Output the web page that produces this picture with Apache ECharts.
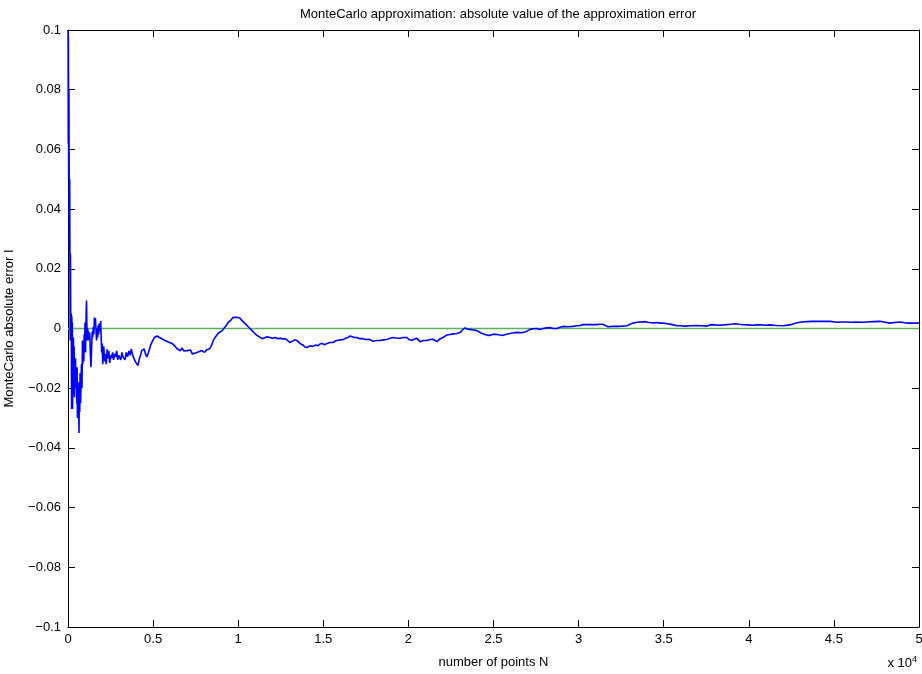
<!DOCTYPE html>
<html>
<head>
<meta charset="utf-8">
<script src="https://cdn.jsdelivr.net/npm/echarts@6/dist/echarts.min.js"></script>
<style>
  html, body { margin: 0; padding: 0; background: #fff; }
  #chart { width: 922px; height: 674px; }
</style>
</head>
<body>
<div id="chart"></div>
<script>
// number of points N and the MonteCarlo error
var errorTrace = [
  [5, 0.1], [15, 0.062], [25, 0.098], [40, 0.05], [55, 0.08], [70, 0.045], [85, 0.025], [100, 0.05],
  [115, 0.02], [130, -0.004], [145, 0.025], [160, 0.004], [175, -0.003],
  [195, 0.005], [210, -0.027], [225, 0.004], [240, -0.02], [255, 0.002], [270, -0.027], [285, -0.005], [300, -0.015],
  [320, -0.003], [340, -0.022], [360, -0.006], [380, -0.023], [400, -0.012], [420, -0.02], [440, -0.01], [460, -0.018], [490, -0.013],
  [515, -0.025], [535, -0.013], [555, -0.03], [575, -0.02], [600, -0.028], [620, -0.018], [645, -0.035],
  [665, -0.022], [690, -0.028], [710, -0.015], [740, -0.025], [770, -0.017],
  [790, -0.012], [820, -0.02], [850, -0.004], [870, -0.012], [900, -0.008], [930, -0.011],
  [950, -0.002], [975, -0.007], [1000, 0.002], [1030, -0.008], [1050, -0.001],
  [1070, 0.006], [1090, 0.0094], [1110, 0.001], [1130, -0.004],
  [1160, 0.0], [1190, -0.004], [1220, -0.001], [1250, -0.003], [1280, -0.0015],
  [1310, -0.008], [1350, -0.013],
  [1390, -0.006], [1420, -0.001], [1450, -0.003], [1490, 0.0005], [1520, -0.002],
  [1550, 0.0037], [1580, 0.002], [1610, 0.0035],
  [1650, -0.001], [1680, -0.004], [1710, 0.0], [1740, -0.003], [1770, 0.001], [1800, -0.002],
  [1830, 0.0017], [1860, 0.002], [1890, -0.001], [1920, 0.0025],
  [1950, -0.003], [1980, -0.008], [2010, -0.005], [2040, -0.012], [2070, -0.008],
  [2100, -0.006], [2150, -0.011], [2200, -0.0085], [2250, -0.012], [2300, -0.007], [2350, -0.01], [2400, -0.0075],
  [2450, -0.0115], [2500, -0.009], [2560, -0.01], [2620, -0.008], [2680, -0.0105], [2740, -0.0085], [2800, -0.0095],
  [2860, -0.0075], [2920, -0.0105], [2980, -0.009], [3040, -0.0085], [3100, -0.0105], [3170, -0.008], [3230, -0.0095],
  [3290, -0.009], [3350, -0.0105], [3420, -0.008], [3500, -0.0095], [3580, -0.0075], [3650, -0.009], [3720, -0.0068],
  [3800, -0.009], [3880, -0.0095], [3950, -0.011], [4030, -0.0105], [4110, -0.0124], [4180, -0.0105],
  [4260, -0.009], [4330, -0.0074], [4400, -0.0078], [4470, -0.0068],
  [4550, -0.0085], [4630, -0.0095], [4700, -0.0085],
  [4780, -0.007], [4860, -0.0055], [4940, -0.0045], [5000, -0.004],
  [5080, -0.003], [5160, -0.0035], [5230, -0.0025], [5290, -0.0023],
  [5380, -0.003], [5460, -0.0025], [5540, -0.0035], [5620, -0.0032], [5700, -0.004],
  [5800, -0.0038], [5900, -0.0045], [6000, -0.004], [6110, -0.005],
  [6200, -0.0055], [6300, -0.006], [6400, -0.0067],
  [6500, -0.0065], [6600, -0.0075], [6700, -0.0065], [6800, -0.0075], [6900, -0.007], [6990, -0.0074],
  [7100, -0.0078], [7200, -0.0072], [7300, -0.0085], [7400, -0.008], [7500, -0.0082], [7580, -0.0088],
  [7680, -0.0078], [7780, -0.0082], [7860, -0.0074], [7930, -0.0075],
  [8030, -0.008], [8130, -0.0072], [8230, -0.0076], [8340, -0.0067],
  [8440, -0.0055], [8540, -0.004], [8640, -0.003],
  [8740, -0.0028], [8840, -0.0015], [8940, -0.0018], [9040, -0.0008], [9110, -0.0007],
  [9200, 0.0003], [9300, 0.001], [9400, 0.002],
  [9500, 0.0023], [9600, 0.003], [9694, 0.0037],
  [9800, 0.0035], [9900, 0.0038], [10000, 0.0032], [10100, 0.0035],
  [10200, 0.0028], [10300, 0.0022], [10400, 0.0017],
  [10500, 0.0012], [10600, 0.0005], [10700, 0.0], [10810, -0.0007],
  [10950, -0.0015], [11100, -0.0023], [11250, -0.0028], [11400, -0.0034],
  [11550, -0.0031], [11700, -0.0028], [11870, -0.003],
  [12000, -0.0033], [12170, -0.003], [12340, -0.0034],
  [12500, -0.0033], [12620, -0.0035], [12750, -0.0034],
  [12900, -0.004], [13040, -0.0047], [13200, -0.0042], [13320, -0.0038], [13450, -0.004], [13630, -0.005],
  [13800, -0.0055], [13920, -0.0062], [14040, -0.0064], [14200, -0.0058], [14390, -0.006],
  [14560, -0.0055], [14680, -0.0058], [14800, -0.0052], [14950, -0.005], [15080, -0.0055], [15220, -0.005],
  [15400, -0.0047], [15570, -0.0047], [15700, -0.0042], [15800, -0.004], [15980, -0.0038], [16160, -0.0037],
  [16300, -0.0033], [16450, -0.003], [16580, -0.0025], [16680, -0.0022], [16830, -0.003], [16980, -0.003],
  [17150, -0.0034], [17330, -0.0034], [17500, -0.0037], [17700, -0.0036], [17920, -0.0043],
  [18120, -0.004], [18330, -0.004], [18530, -0.0038], [18740, -0.0037], [18920, -0.0033], [19090, -0.003],
  [19300, -0.0032], [19500, -0.0033], [19700, -0.003], [19920, -0.003], [20060, -0.0038], [20210, -0.004],
  [20350, -0.0035], [20500, -0.0033], [20680, -0.0044], [20880, -0.004], [21090, -0.004],
  [21270, -0.0037], [21440, -0.0036], [21560, -0.004], [21680, -0.0044], [21850, -0.0035], [22030, -0.003],
  [22250, -0.0022], [22440, -0.002], [22650, -0.0018], [22850, -0.0017], [23030, -0.0013],
  [23180, -0.0005], [23320, 0.0002], [23470, -0.0002], [23620, -0.0003], [23830, -0.0005], [24030, -0.0007],
  [24270, -0.0015], [24500, -0.002], [24650, -0.0023], [24790, -0.0023], [25000, -0.0019], [25200, -0.002],
  [25380, -0.0022], [25560, -0.0023], [25770, -0.0019], [25970, -0.0017], [26180, -0.0014], [26380, -0.0013],
  [26620, -0.0014], [26850, -0.0012], [27000, -0.0008], [27140, -0.0003], [27350, -0.0001], [27550, 0.0],
  [27730, -0.0003], [27910, 0.0], [28120, 0.0002], [28320, 0.0003], [28520, 0.0], [28730, 0.0],
  [28900, 0.0004], [29080, 0.0007], [29370, 0.0006], [29670, 0.0007], [29870, 0.0009], [30080, 0.001],
  [30290, 0.0013], [30490, 0.0013], [30780, 0.0013], [31080, 0.0013], [31250, 0.0014], [31430, 0.0014],
  [31600, 0.0009], [31730, 0.0006], [31990, 0.0007], [32250, 0.0007], [32550, 0.0008], [32840, 0.0009],
  [33020, 0.0014], [33190, 0.0018], [33430, 0.0021], [33660, 0.0022], [33900, 0.0023], [34050, 0.0021],
  [34190, 0.002], [34400, 0.0019], [34600, 0.002], [34780, 0.0018], [34960, 0.0018], [35230, 0.0016],
  [35490, 0.0013], [35780, 0.0009], [36000, 0.0009], [36270, 0.0008], [36540, 0.0009], [36950, 0.001],
  [37250, 0.0009], [37540, 0.0008], [37720, 0.0012], [37890, 0.0013], [38180, 0.0011], [38480, 0.0012],
  [38700, 0.0013], [38890, 0.0014], [39050, 0.0015], [39190, 0.0016], [39420, 0.0014], [39660, 0.0013],
  [39950, 0.0012], [40240, 0.0011], [40450, 0.0012], [40660, 0.0012], [40950, 0.0011], [41240, 0.0012],
  [41620, 0.001], [42010, 0.0009], [42420, 0.0012], [42830, 0.0019], [43130, 0.0022], [43420, 0.0023],
  [43700, 0.0024], [44000, 0.0024], [44380, 0.0024], [44770, 0.0024], [45180, 0.0021], [45470, 0.0022],
  [45770, 0.0022], [46060, 0.0021], [46350, 0.0022], [46650, 0.0021], [46940, 0.0022], [47300, 0.0023],
  [47710, 0.0024], [48000, 0.0021], [48290, 0.0018], [48580, 0.002], [48880, 0.0022], [49170, 0.0019],
  [49470, 0.0018], [50000, 0.0018]
]

// exact value reference (error = 0)
var zeroLine = [[0, 0], [50000, 0]]

var xRange = [0, 50000]
var yRange = [-0.1, 0.1]

var fontFamily = 'Liberation Sans, Arial, Helvetica, sans-serif'

function yLabel(v) {
  var s = parseFloat(v.toFixed(2)).toString()
  return s.replace('-', '\u2212')
}

function xLabel(v) {
  return parseFloat((v / 10000).toFixed(1)).toString()
}

var chart = echarts.init(document.getElementById('chart'))

var boxAxisLine = { show: true, onZero: false, lineStyle: { color: '#000', width: 1 } }
var innerTick = { show: true, inside: true, length: 7, lineStyle: { color: '#000' } }

var option = {
  animation: false,
  backgroundColor: '#fff',
  title: {
    text: 'MonteCarlo approximation: absolute value of the approximation error',
    left: 493,
    textAlign: 'center',
    top: 3,
    textStyle: { fontFamily: fontFamily, fontSize: 13, fontWeight: 'normal', color: '#000' }
  },
  grid: { left: 68, right: 3, top: 30, bottom: 47, outerBoundsMode: 'none', containLabel: false },
  xAxis: [
    {
      type: 'value',
      min: xRange[0],
      max: xRange[1],
      interval: 5000,
      position: 'bottom',
      name: 'number of points N',
      nameLocation: 'middle',
      nameGap: 29,
      nameTextStyle: { fontFamily: fontFamily, fontSize: 13, color: '#000' },
      axisLine: boxAxisLine,
      axisTick: innerTick,
      splitLine: { show: false },
      axisLabel: {
        fontFamily: fontFamily, fontSize: 13, color: '#000', margin: 6,
        formatter: xLabel
      }
    },
    {
      type: 'value',
      min: xRange[0],
      max: xRange[1],
      interval: 5000,
      position: 'top',
      axisLine: boxAxisLine,
      axisTick: innerTick,
      splitLine: { show: false },
      axisLabel: { show: false }
    }
  ],
  yAxis: [
    {
      type: 'value',
      min: yRange[0],
      max: yRange[1],
      interval: 0.02,
      position: 'left',
      name: 'MonteCarlo absolute error I',
      nameLocation: 'middle',
      nameGap: 52,
      nameRotate: 90,
      nameTextStyle: { fontFamily: fontFamily, fontSize: 13, color: '#000' },
      axisLine: boxAxisLine,
      axisTick: innerTick,
      splitLine: { show: false },
      axisLabel: {
        fontFamily: fontFamily, fontSize: 13, color: '#000', margin: 7,
        formatter: yLabel
      }
    },
    {
      type: 'value',
      min: yRange[0],
      max: yRange[1],
      interval: 0.02,
      position: 'right',
      axisLine: boxAxisLine,
      axisTick: innerTick,
      splitLine: { show: false },
      axisLabel: { show: false }
    }
  ],
  series: [
    {
      name: 'error',
      type: 'line',
      data: errorTrace,
      showSymbol: false,
      clip: true,
      lineStyle: { color: '#0000ff', width: 1.6 },
      z: 3
    },
    {
      name: 'zero',
      type: 'line',
      data: zeroLine,
      showSymbol: false,
      lineStyle: { color: '#5cb25c', width: 1.5 },
      z: 2
    }
  ],
  graphic: [
    {
      type: 'text',
      right: 5,
      top: 655,
      style: {
        text: 'x 10{sup|4}',
        fontFamily: fontFamily,
        fontSize: 13,
        fill: '#000',
        rich: {
          sup: { fontSize: 9, verticalAlign: 'top', padding: [0, 0, 8, 0] }
        }
      }
    }
  ]
}

chart.setOption(option)
</script>
</body>
</html>
